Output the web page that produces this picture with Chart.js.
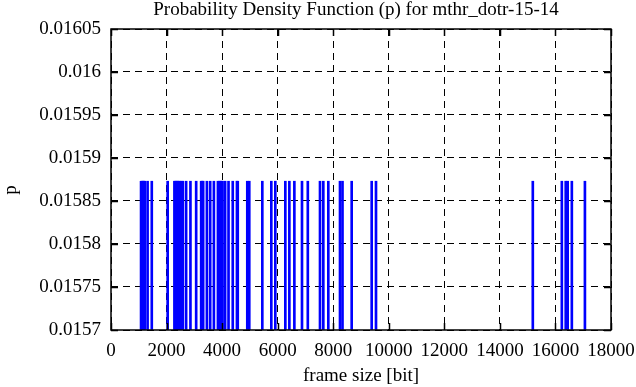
<!DOCTYPE html>
<html><head><meta charset="utf-8">
<script src="https://cdn.jsdelivr.net/npm/chart.js@4/dist/chart.umd.min.js"></script>
<style>html,body{margin:0;padding:0;background:#fff}#wrap{width:636px;height:387px}</style>
</head><body><div id="wrap"><canvas id="c" width="636" height="387"></canvas></div>
<script>
const frameSizes = [
  1082, 1118, 1154, 1185, 1215, 1317, 1468,
  2040,
  2283, 2320, 2355, 2390, 2427, 2465, 2525, 2586, 2705, 2860,
  3066, 3246, 3282, 3318, 3452, 3571, 3704, 3849, 3890, 3928, 3970,
  4015, 4108, 4231, 4383, 4534, 4563, 4906, 4978,
  5447, 5771, 5915,
  6276, 6421, 6601, 6876, 7085, 7524, 7643, 7823, 8244, 8334, 8665, 9385, 9540,
  15185, 16230, 16370, 16440, 16590, 17061
];
const probabilities = [
  0.015873, 0.015873, 0.015873, 0.015873, 0.015873, 0.015873, 0.015873,
  0.015873,
  0.015873, 0.015873, 0.015873, 0.015873, 0.015873, 0.015873, 0.015873, 0.015873, 0.015873, 0.015873,
  0.015873, 0.015873, 0.015873, 0.015873, 0.015873, 0.015873, 0.015873, 0.015873, 0.015873, 0.015873, 0.015873,
  0.015873, 0.015873, 0.015873, 0.015873, 0.015873, 0.015873, 0.015873, 0.015873,
  0.015873, 0.015873, 0.015873,
  0.015873, 0.015873, 0.015873, 0.015873, 0.015873, 0.015873, 0.015873, 0.015873, 0.015873, 0.015873, 0.015873, 0.015873, 0.015873,
  0.015873, 0.015873, 0.015873, 0.015873, 0.015873, 0.015873
];
const xTicks = [0, 2000, 4000, 6000, 8000, 10000, 12000, 14000, 16000, 18000];
const yTicks = [0.0157, 0.01575, 0.0158, 0.01585, 0.0159, 0.01595, 0.016, 0.01605];
const yTickLabels = ['0.0157', '0.01575', '0.0158', '0.01585', '0.0159', '0.01595', '0.016', '0.01605'];
const titleText = 'Probability Density Function (p) for mthr_dotr-15-14';
const xTitle = 'frame size [bit]';
const yTitle = 'p';

const FONT = {family: 'Liberation Serif', size: 19};

const framePlugin = {
  id: 'frame',
  afterDraw(chart) {
    const ctx = chart.ctx, a = chart.chartArea;
    const xs = chart.scales.x, ys = chart.scales.y;
    ctx.save();
    ctx.strokeStyle = '#000';
    ctx.lineWidth = 1.5;
    ctx.setLineDash([]);
    ctx.strokeRect(a.left, a.top, a.right - a.left, a.bottom - a.top);
    const tl = 7;
    ctx.beginPath();
    xTicks.forEach(v => {
      const px = Math.round(xs.getPixelForValue(v)) + 0.5;
      ctx.moveTo(px, a.bottom); ctx.lineTo(px, a.bottom - tl);
      ctx.moveTo(px, a.top); ctx.lineTo(px, a.top + tl);
    });
    yTicks.forEach(v => {
      const py = Math.round(ys.getPixelForValue(v)) + 0.5;
      ctx.moveTo(a.left, py); ctx.lineTo(a.left + tl, py);
      ctx.moveTo(a.right, py); ctx.lineTo(a.right - tl, py);
    });
    ctx.stroke();
    ctx.fillStyle = '#000';
    ctx.font = FONT.size + 'px "' + FONT.family + '"';
    ctx.textAlign = 'center';
    ctx.textBaseline = 'middle';
    ctx.fillText(titleText, 356, 10);
    ctx.translate(11, 190);
    ctx.rotate(-Math.PI / 2);
    ctx.fillText(yTitle, 0, 0);
    ctx.restore();
  }
};

new Chart(document.getElementById('c'), {
  type: 'bar',
  data: {
    datasets: [{
      data: frameSizes.map((x, i) => ({x: x, y: probabilities[i]})),
      backgroundColor: '#0000ff',
      borderWidth: 0,
      barThickness: 2,
      base: 0.0157
    }]
  },
  options: {
    responsive: false,
    animation: false,
    devicePixelRatio: 1,
    layout: {padding: {top: 29, right: 25, left: 0, bottom: 0}},
    plugins: {legend: {display: false}, tooltip: {enabled: false}, title: {display: false}},
    scales: {
      x: {
        type: 'linear', min: 0, max: 18000, offset: false,
        afterBuildTicks: s => { s.ticks = xTicks.map(v => ({value: v})); },
        afterFit: s => { s.height = 57; s.paddingLeft = 0; s.paddingRight = 0; },
        ticks: {font: FONT, color: '#000', padding: 10, maxRotation: 0, autoSkip: false,
                callback: v => String(v)},
        grid: {color: '#000', lineWidth: 1, drawTicks: false, offset: false, borderDash: [7, 5]},
        border: {display: false, dash: [7, 5]},
        title: {display: true, text: xTitle, font: FONT, color: '#000', padding: {top: 0, bottom: 0}}
      },
      y: {
        type: 'linear', min: 0.0157, max: 0.01605,
        afterBuildTicks: s => { s.ticks = yTicks.map(v => ({value: v})); },
        afterFit: s => { s.width = 111; s.paddingTop = 0; s.paddingBottom = 0; },
        ticks: {font: FONT, color: '#000', padding: 10,
                callback: (v, i) => yTickLabels[i]},
        grid: {color: '#000', lineWidth: 1, drawTicks: false, borderDash: [7, 5]},
        border: {display: false, dash: [7, 5]}
      }
    }
  },
  plugins: [framePlugin]
});
</script></body></html>
